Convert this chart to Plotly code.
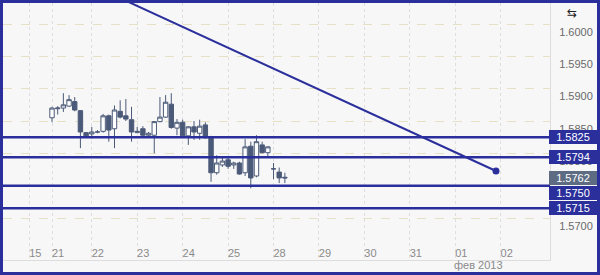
import plotly.graph_objects as go

# ---- data (3-hour candles, index = candle number) ----
opens  = [1.5855,1.5869,1.5870,1.5873,1.5880,1.5866,1.5832,
          1.5830,1.5833,1.5834,1.5858,1.5838,1.5865,1.5858,1.5852,
          1.5832,1.5838,1.5828,1.5828,1.5849,1.5856,1.5876,1.5839,
          1.5848,1.5827,1.5841,1.5831,1.5844,1.5825,1.5770,1.5782,
          1.5790,1.5782,1.5785,1.5770,1.5811,1.5765,1.5813,1.5801,
          1.5776,1.5771,1.5763]
highs  = [1.5872,1.5873,1.5893,1.5890,1.5887,1.5867,1.5833,
          1.5841,1.5836,1.5861,1.5860,1.5874,1.5882,1.5884,1.5872,
          1.5841,1.5842,1.5833,1.5850,1.5887,1.5890,1.5893,1.5853,
          1.5852,1.5842,1.5850,1.5852,1.5848,1.5827,1.5797,1.5793,
          1.5793,1.5787,1.5787,1.5822,1.5818,1.5828,1.5818,1.5811,
          1.5785,1.5778,1.5770]
lows   = [1.5848,1.5860,1.5864,1.5872,1.5865,1.5808,1.5824,
          1.5823,1.5831,1.5832,1.5818,1.5808,1.5854,1.5850,1.5818,
          1.5831,1.5824,1.5825,1.5800,1.5848,1.5855,1.5838,1.5828,
          1.5825,1.5813,1.5821,1.5821,1.5823,1.5756,1.5767,1.5779,
          1.5776,1.5776,1.5767,1.5765,1.5746,1.5763,1.5800,1.5795,
          1.5760,1.5754,1.5754]
closes = [1.5870,1.5870,1.5875,1.5883,1.5867,1.5833,1.5827,
          1.5833,1.5833,1.5858,1.5836,1.5867,1.5856,1.5853,1.5833,
          1.5834,1.5828,1.5831,1.5849,1.5856,1.5879,1.5840,1.5848,
          1.5827,1.5841,1.5833,1.5842,1.5824,1.5770,1.5785,1.5788,
          1.5780,1.5785,1.5768,1.5810,1.5762,1.5818,1.5801,1.5810,
          1.5776,1.5762,1.5762]
candle_idx = list(range(len(opens)))

day_positions = [-4, 0, 7, 15, 23, 31, 39, 47, 55, 63, 71, 79]
day_labels    = ["15", "21", "22", "23", "24", "25", "28", "29", "30", "31", "01", "02"]

y_ticks = [1.5700, 1.5750, 1.5800, 1.5850, 1.5900, 1.5950, 1.6000]

levels = [1.5825, 1.5794, 1.5750, 1.5715]
level_label_shift = [0, 0, -7, 0]   # px, labels nudged to avoid overlap
last_price = 1.5762

trend_x = [10.0, 78.17]
trend_y = [1.60481, 1.57727]

month_label = "фев 2013"

# ---- styling ----
BLUE = "#2b2f9c"
CANDLE = "#4b5a78"
BG = "#f7f7f7"

fig = go.Figure()

fig.add_trace(go.Candlestick(
    x=candle_idx, open=opens, high=highs, low=lows, close=closes,
    increasing=dict(line=dict(color=CANDLE, width=1), fillcolor="#ffffff"),
    decreasing=dict(line=dict(color=CANDLE, width=1), fillcolor=CANDLE),
    whiskerwidth=0, showlegend=False, hoverinfo="skip"))

for lv in levels:
    fig.add_shape(type="line", xref="paper", x0=0, x1=1, yref="y", y0=lv, y1=lv,
                  line=dict(color=BLUE, width=2.5), layer="above")

fig.add_trace(go.Scatter(x=trend_x, y=trend_y, mode="lines",
                         line=dict(color=BLUE, width=2), showlegend=False, hoverinfo="skip"))
fig.add_trace(go.Scatter(x=[trend_x[-1]], y=[trend_y[-1]], mode="markers",
                         marker=dict(color=BLUE, size=7), showlegend=False, hoverinfo="skip"))

# price label boxes
box_x = (573 - 3) / 547
fig.add_annotation(x=box_x, xref="paper", y=last_price, yref="y", text=f"{last_price:.4f}",
                   showarrow=False, xanchor="center", yanchor="middle",
                   bgcolor="#5d6c83", bordercolor="#5d6c83", borderwidth=1, borderpad=1,
                   width=44, height=10,
                   font=dict(family="Liberation Sans", size=11, color="#ffffff"))
for lv, sh in zip(levels, level_label_shift):
    fig.add_annotation(x=box_x, xref="paper", y=lv, yref="y", yshift=sh, text=f"{lv:.4f}",
                       showarrow=False, xanchor="center", yanchor="middle",
                       bgcolor=BLUE, bordercolor=BLUE, borderwidth=1, borderpad=1,
                       width=44, height=10,
                       font=dict(family="Liberation Sans", size=11, color="#ffffff"))

# month label
fig.add_annotation(x=(478 - 3) / 547, xref="paper", y=(260 - 265) / 257, yref="paper",
                   text=month_label, showarrow=False, xanchor="center", yanchor="middle",
                   font=dict(family="Liberation Sans", size=11, color="#8a8a8a"))

# small icon top right
fig.add_annotation(x=(572 - 3) / 547, xref="paper", y=(260 - 13) / 257, yref="paper",
                   text="⇆", showarrow=False, xanchor="center", yanchor="middle",
                   font=dict(family="DejaVu Sans", size=12, color="#222222"))

# frame around whole image
fig.add_shape(type="rect", xref="paper", yref="paper",
              x0=-1.5 / 547, x1=595.5 / 547, y0=(260 - 273.5) / 257, y1=(260 - 1.5) / 257,
              line=dict(color=BLUE, width=3), fillcolor="rgba(0,0,0,0)", layer="above")

fig.update_layout(
    width=600, height=275,
    margin=dict(l=3, r=50, t=3, b=15),
    paper_bgcolor=BG, plot_bgcolor=BG,
    showlegend=False,
    boxgap=0.12, boxgroupgap=0.12,
    xaxis=dict(range=[-8.63, 87.68], tickvals=day_positions, ticktext=day_labels,
               showgrid=True, gridcolor="#dedede", griddash="dot", gridwidth=1,
               zeroline=False, showline=True, linecolor="#dddddd", linewidth=1,
               ticklabelposition="inside", ticklabelshift=6, ticks="",
               tickfont=dict(family="Liberation Sans", size=11, color="#8a8a8a"),
               rangeslider=dict(visible=False), fixedrange=True),
    yaxis=dict(range=[1.563505, 1.603247], side="right", tickvals=y_ticks,
               ticktext=[f"{v:.4f}" for v in y_ticks],
               showgrid=True, gridcolor="#e6e0c4", griddash="dash", gridwidth=1,
               zeroline=False, showline=True, linecolor="#dddddd", linewidth=1,
               ticklabelposition="outside bottom", ticklabelstandoff=6, ticks="",
               tickfont=dict(family="Liberation Sans", size=11, color="#6a6a6a"),
               fixedrange=True),
)

fig.write_html("out.html")
